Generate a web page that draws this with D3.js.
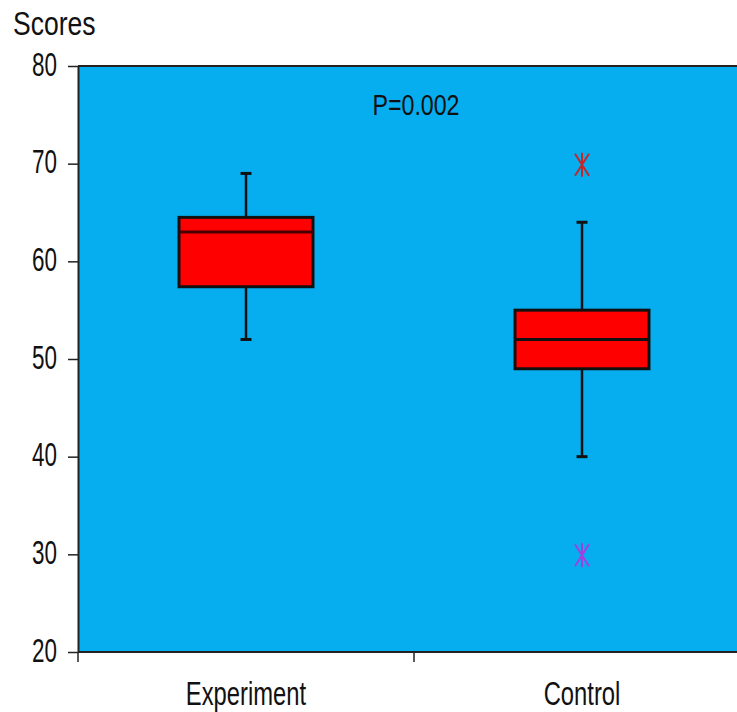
<!DOCTYPE html>
<html>
<head>
<meta charset="utf-8">
<script src="https://cdn.jsdelivr.net/npm/d3@7"></script>
<style>
  body { margin: 0; background: #fff; }
  svg { display: block; font-family: "Liberation Sans", Arial, sans-serif; }
</style>
</head>
<body>
<svg width="737" height="712"></svg>
<script>
const groups = ["Experiment", "Control"];
const whiskerLow = [52, 40];
const q1 = [57.4, 49];
const median = [63, 52];
const q3 = [64.5, 55];
const whiskerHigh = [69, 64];
const outliers = [
  {group: "Control", value: 70, color: "#c0282c"},
  {group: "Control", value: 30, color: "#a040e0"}
];
const yTicks = [20, 30, 40, 50, 60, 70, 80];
const pLabel = "P=0.002";

const svg = d3.select("svg");
const margin = {top: 66, left: 78, bottom: 60};
const height = 712;
const plotRight = 750;

const y = d3.scaleLinear().domain([20, 80]).range([height - margin.bottom, margin.top]);
const x = d3.scaleBand().domain(groups).range([margin.left, plotRight]);

// the text in the picture is tall and narrow, so squeeze it sideways
function squeezed(sel, px, py, sx) {
  return sel.attr("x", 0).attr("y", 0)
    .attr("transform", "translate(" + px + "," + py + ") scale(" + sx + ",1)");
}

// plot background
svg.append("rect")
  .attr("x", margin.left).attr("y", y(80))
  .attr("width", plotRight - margin.left)
  .attr("height", y(20) - y(80))
  .attr("fill", "#06aeef");

svg.append("line")
  .attr("x1", margin.left).attr("x2", plotRight)
  .attr("y1", y(80)).attr("y2", y(80))
  .attr("stroke", "#222").attr("stroke-width", 2);

// y axis
const yAxis = svg.append("g")
  .attr("transform", "translate(" + margin.left + ",0)")
  .call(d3.axisLeft(y).tickValues(yTicks).tickSize(10).tickSizeOuter(0));
yAxis.select(".domain").attr("stroke", "#222").attr("stroke-width", 2);
yAxis.selectAll(".tick line").attr("stroke", "#222").attr("stroke-width", 1.5);
yAxis.selectAll(".tick text")
  .attr("font-size", 34).attr("fill", "#111").attr("dy", "0.27em")
  .each(function() { squeezed(d3.select(this), -21, 0, 0.66); });

// x axis: ticks at band edges
const xAxis = svg.append("g").attr("transform", "translate(0," + y(20) + ")");
xAxis.append("line")
  .attr("x1", margin.left).attr("x2", plotRight)
  .attr("stroke", "#222").attr("stroke-width", 2);
xAxis.selectAll(".sep")
  .data(groups)
  .enter().append("line")
  .attr("x1", d => x(d)).attr("x2", d => x(d))
  .attr("y1", 0).attr("y2", 10)
  .attr("stroke", "#222").attr("stroke-width", 1.5);
xAxis.selectAll(".lab")
  .data(groups)
  .enter().append("text")
  .attr("text-anchor", "middle")
  .attr("font-size", 34).attr("fill", "#111")
  .text(d => d)
  .each(function(d) { squeezed(d3.select(this), x(d) + x.bandwidth() / 2, 53, 0.7); });

squeezed(svg.append("text"), 13, 35, 0.78)
  .attr("font-size", 34).attr("fill", "#111")
  .text("Scores");

squeezed(svg.append("text"), x("Control") + 2, 115, 0.8)
  .attr("text-anchor", "middle")
  .attr("font-size", 29).attr("fill", "#111")
  .text(pLabel);

// boxes
const boxW = 134, capW = 11;
const box = svg.selectAll(".box")
  .data(groups)
  .enter().append("g")
  .attr("transform", d => "translate(" + (x(d) + x.bandwidth() / 2) + ",0)");

box.append("line")
  .attr("y1", (d, i) => y(whiskerHigh[i])).attr("y2", (d, i) => y(q3[i]))
  .attr("stroke", "#111").attr("stroke-width", 2.5);
box.append("line")
  .attr("y1", (d, i) => y(q1[i])).attr("y2", (d, i) => y(whiskerLow[i]))
  .attr("stroke", "#111").attr("stroke-width", 2.5);
box.append("line")
  .attr("x1", -capW / 2).attr("x2", capW / 2)
  .attr("y1", (d, i) => y(whiskerHigh[i])).attr("y2", (d, i) => y(whiskerHigh[i]))
  .attr("stroke", "#111").attr("stroke-width", 3);
box.append("line")
  .attr("x1", -capW / 2).attr("x2", capW / 2)
  .attr("y1", (d, i) => y(whiskerLow[i])).attr("y2", (d, i) => y(whiskerLow[i]))
  .attr("stroke", "#111").attr("stroke-width", 3);
box.append("rect")
  .attr("x", -boxW / 2).attr("width", boxW)
  .attr("y", (d, i) => y(q3[i]))
  .attr("height", (d, i) => y(q1[i]) - y(q3[i]))
  .attr("fill", "#ff0000").attr("stroke", "#111").attr("stroke-width", 3);
box.append("line")
  .attr("x1", -boxW / 2).attr("x2", boxW / 2)
  .attr("y1", (d, i) => y(median[i])).attr("y2", (d, i) => y(median[i]))
  .attr("stroke", (d, i) => i === 0 ? "#4a0000" : "#111").attr("stroke-width", 3);

// outlier asterisks
const star = svg.selectAll(".out")
  .data(outliers)
  .enter().append("g")
  .attr("transform", d => "translate(" + (x(d.group) + x.bandwidth() / 2) + "," + (y(d.value) + 1) + ")");
star.append("path")
  .attr("d", "M0,-12V12M-7,-11L7,11M7,-11L-7,11")
  .attr("stroke", d => d.color).attr("stroke-width", 2).attr("fill", "none");
</script>
</body>
</html>
